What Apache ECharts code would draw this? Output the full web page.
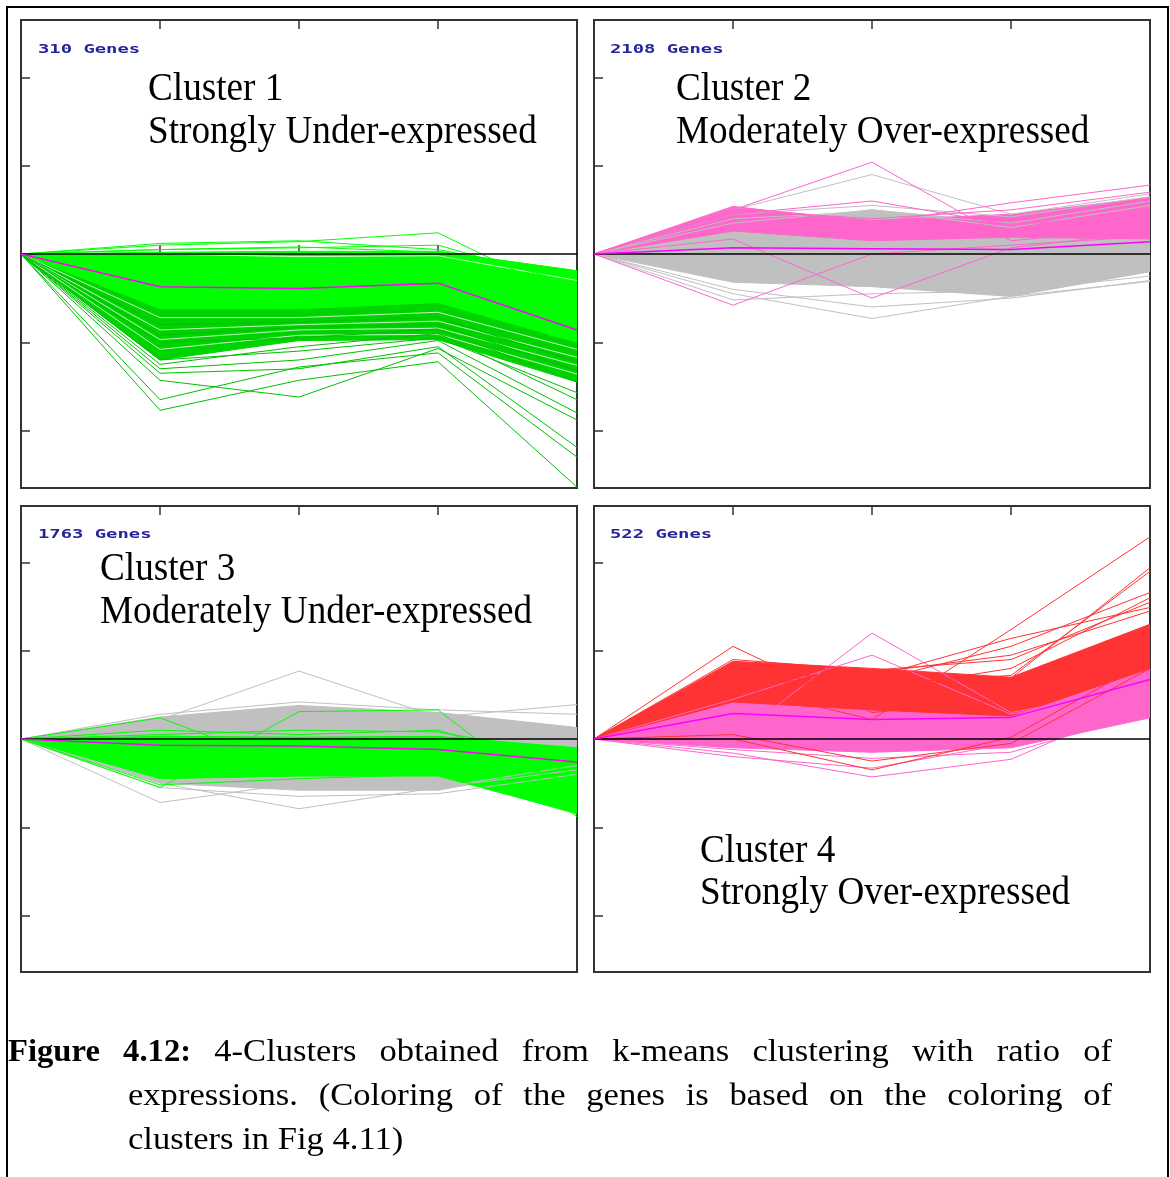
<!DOCTYPE html>
<html><head><meta charset="utf-8">
<script src="https://cdn.jsdelivr.net/npm/echarts@6/dist/echarts.min.js"></script>
<style>html,body{margin:0;padding:0;background:#fff}#c{width:1170px;height:1177px}</style>
</head><body><div id="c"></div>
<script>
// ---------- shared axes ----------
const xPoints = [0, 1, 2, 3, 4];
const yTicks = [-2, -1, 1, 2];
const zeroLine = [0, 0, 0, 0, 0];

// ---------- texts ----------
const geneCounts = ['310 Genes', '2108 Genes', '1763 Genes', '522 Genes'];
const clusterNames = ['Cluster 1', 'Cluster 2', 'Cluster 3', 'Cluster 4'];
const clusterDescs = ['Strongly Under-expressed', 'Moderately Over-expressed', 'Moderately Under-expressed', 'Strongly Over-expressed'];
const captionBold = ['Figure', '4.12:'];
const captionLine1 = ['4-Clusters', 'obtained', 'from', 'k-means', 'clustering', 'with', 'ratio', 'of'];
const captionLine2 = ['expressions.', '(Coloring', 'of', 'the', 'genes', 'is', 'based', 'on', 'the', 'coloring', 'of'];
const captionLine3 = 'clusters in Fig 4.11)';

// ---------- Cluster 1 (green) ----------
const c1Centroid = [0, -0.37, -0.39, -0.33, -0.86];
const c1DarkUpper = [0, -0.35, -0.40, -0.35, -0.75];
const c1DarkLower = [0, -1.20, -0.98, -0.97, -1.45];
const c1BrightUpper = [0, 0.02, 0.03, 0.03, -0.19];
const c1BrightLower = [0, -0.62, -0.62, -0.55, -1.0];
const c1GapLines = [
  [0, -0.72, -0.72, -0.66, -1.08],
  [0, -0.86, -0.80, -0.76, -1.17],
  [0, -0.97, -0.86, -0.84, -1.26],
  [0, -1.08, -0.92, -0.91, -1.36],
  [0, 0.00, -0.03, -0.02, -0.30]
];
const c1DarkLines = [
  [0, -1.77, -1.43, -1.22, -2.64],
  [0, -1.65, -1.28, -1.12, -2.30],
  [0, -1.43, -1.62, -1.07, -1.88],
  [0, -1.30, -1.20, -0.98, -1.80],
  [0, -1.25, -1.05, -0.90, -1.65],
  [0, -1.35, -1.30, -1.05, -2.19],
  [0, -1.20, -1.10, -0.95, -1.57],
  [0, -1.00, -0.95, -0.85, -1.45],
  [0, -0.80, -0.77, -0.72, -1.22],
  [0, -0.92, -0.83, -0.80, -1.32]
];
const c1BrightLines = [
  [0, 0.10, 0.14, 0.24, -0.53],
  [0, 0.05, 0.08, 0.02, -0.19],
  [0, 0.12, 0.15, 0.05, -0.25],
  [0, 0.05, 0.07, 0.10, -0.35]
];

// ---------- Cluster 2 (pink / grey) ----------
const c2Centroid = [0, 0.07, 0.06, 0.05, 0.14];
const c2GrayUpper = [0, 0.30, 0.50, 0.35, 0.20];
const c2GrayLower = [0, -0.32, -0.37, -0.48, -0.20];
const c2PinkUpper = [0, 0.53, 0.38, 0.45, 0.64];
const c2PinkLower = [0, 0.26, 0.15, 0.19, 0.17];
const c2GrayLines = [
  [0, 0.50, 0.90, 0.45, 0.68],
  [0, 0.45, 0.55, 0.42, 0.65],
  [0, 0.35, 0.50, 0.30, 0.55],
  [0, 0.40, 0.48, 0.35, 0.60],
  [0, -0.45, -0.73, -0.48, -0.31],
  [0, -0.52, -0.45, -0.42, -0.25],
  [0, -0.40, -0.60, -0.50, -0.30]
];
const c2PinkLines = [
  [0, 0.50, 1.04, 0.15, 0.30],
  [0, 0.45, 0.60, 0.33, 0.45],
  [0, 0.54, 0.35, 0.58, 0.78],
  [0, 0.50, 0.40, 0.50, 0.70],
  [0, -0.58, 0.00, 0.10, 0.20],
  [0, 0.17, -0.50, 0.07, 0.25]
];

// ---------- Cluster 3 (green / grey) ----------
const c3Centroid = [0, -0.07, -0.08, -0.12, -0.26];
const c3GrayUpper = [0, 0.25, 0.38, 0.30, 0.13];
const c3GrayLower = [0, -0.50, -0.58, -0.58, -0.30];
const c3GreenUpper = [0, 0.03, 0.02, 0.03, -0.10];
const c3GreenLower = [0, -0.45, -0.42, -0.42, -0.84];
const c3GrayLines = [
  [0, 0.22, 0.77, 0.25, 0.39],
  [0, 0.28, 0.42, 0.33, 0.28],
  [0, 0.20, 0.30, 0.10, 0.12],
  [0, -0.72, -0.50, -0.55, -0.30],
  [0, -0.50, -0.79, -0.55, -0.35],
  [0, -0.55, -0.65, -0.62, -0.40]
];
const c3GreenLines = [
  [0, 0.24, -0.35, -0.10, -0.50],
  [0, -0.55, 0.31, 0.33, -0.88],
  [0, 0.10, 0.05, 0.10, -0.40],
  [0, -0.52, -0.45, -0.40, -0.85],
  [0, 0.05, 0.10, 0.08, -0.20]
];

// ---------- Cluster 4 (red / pink) ----------
const c4Centroid = [0, 0.29, 0.22, 0.245, 0.675];
const c4PinkUpper = [0, 0.45, 0.36, 0.28, 0.82];
const c4PinkLower = [0, -0.10, -0.15, -0.10, 0.24];
const c4RedUpper = [0, 0.88, 0.80, 0.70, 1.30];
const c4RedLower = [0, 0.42, 0.33, 0.26, 0.80];
const c4RedLines = [
  [0, 1.05, 0.30, 0.45, 1.30],
  [0, 0.60, 0.22, 1.24, 2.29],
  [0, 0.70, 0.60, 0.69, 1.94],
  [0, 0.75, 0.62, 0.72, 1.90],
  [0, 0.75, 0.70, 1.14, 1.49],
  [0, 0.80, 0.65, 1.05, 1.66],
  [0, 0.85, 0.75, 0.95, 1.45],
  [0, 0.90, 0.78, 0.90, 1.55],
  [0, 0.70, 0.55, 0.80, 1.60],
  [0, 0.00, -0.35, 0.02, 0.90],
  [0, 0.05, -0.25, -0.05, 0.80]
];
const c4PinkLines = [
  [0, 0.00, 1.20, 0.30, 0.60],
  [0, 0.45, 0.95, 0.28, 0.60],
  [0, -0.16, -0.43, -0.23, 0.45],
  [0, -0.20, -0.33, -0.05, 0.35],
  [0, -0.12, -0.22, -0.15, 0.30]
];

// ---------- colours ----------
const GREEN = '#00ff00', DKGREEN = '#00c000', MIDGREEN = '#00d400', GRAY = '#c0c0c0', PINK = '#ff66cc', RED = '#ff3333', MAGENTA = '#ff00ff';

// ---------- layout ----------
const grids = [
  {left: 21, top: 20, width: 556, height: 468},
  {left: 594, top: 20, width: 556, height: 468},
  {left: 21, top: 506, width: 556, height: 466},
  {left: 594, top: 506, width: 556, height: 466}
];
const yRange = [2.65, 2.65, 2.64, 2.64];

const chart = echarts.init(document.getElementById('c'), null, {renderer: 'canvas'});

const xAxes = [], yAxes = [];
grids.forEach((g, i) => {
  const tick = {show: true, inside: true, length: 9, lineStyle: {color: '#333', width: 1.5}};
  xAxes.push({type: 'value', gridIndex: i, min: 0, max: 4, interval: 1, position: 'bottom',
    axisLine: {show: false}, axisLabel: {show: false}, splitLine: {show: false}, axisTick: tick});
  xAxes.push({type: 'value', gridIndex: i, min: 0, max: 4, interval: 1, position: 'top',
    axisLine: {show: false}, axisLabel: {show: false}, splitLine: {show: false}, axisTick: tick});
  yAxes.push({type: 'value', gridIndex: i, min: -yRange[i], max: yRange[i],
    axisLine: {show: false}, axisLabel: {show: false}, splitLine: {show: false},
    axisTick: Object.assign({}, tick, {customValues: yTicks})});
});

function band(g, upper, lower, color, z) {
  return {
    type: 'custom', coordinateSystem: 'cartesian2d', xAxisIndex: 2 * g, yAxisIndex: g,
    silent: true, animation: false, clip: true, z: z, data: [[0, 0]],
    renderItem: function (params, api) {
      const pts = [];
      xPoints.forEach((x, i) => pts.push(api.coord([x, upper[i]])));
      for (let i = xPoints.length - 1; i >= 0; i--) pts.push(api.coord([xPoints[i], lower[i]]));
      return {type: 'polygon', shape: {points: pts}, style: {fill: color, stroke: color, lineWidth: 1}};
    }
  };
}
function line(g, vals, color, width, z, opacity) {
  return {
    type: 'line', xAxisIndex: 2 * g, yAxisIndex: g, silent: true, animation: false, clip: true,
    symbol: 'none', z: z, data: xPoints.map((x, i) => [x, vals[i]]),
    lineStyle: {color: color, width: width, opacity: opacity == null ? 1 : opacity}
  };
}
const series = [];
// panel 1
series.push(band(0, c1DarkUpper, c1DarkLower, MIDGREEN, 2));
series.push(band(0, c1BrightUpper, c1BrightLower, GREEN, 3));
c1GapLines.forEach(v => series.push(line(0, v, '#ffffff', 1, 4, 0.75)));
c1DarkLines.forEach(v => series.push(line(0, v, DKGREEN, 1, 4)));
c1BrightLines.forEach(v => series.push(line(0, v, GREEN, 1, 4)));
series.push(line(0, zeroLine, '#000', 1.5, 5));
series.push(line(0, c1Centroid, MAGENTA, 1.5, 6));
// panel 2
series.push(band(1, c2GrayUpper, c2GrayLower, GRAY, 2));
series.push(band(1, c2PinkUpper, c2PinkLower, PINK, 3));
c2GrayLines.forEach(v => series.push(line(1, v, GRAY, 1, 4)));
c2PinkLines.forEach(v => series.push(line(1, v, PINK, 1, 4)));
series.push(line(1, zeroLine, '#000', 1.5, 5));
series.push(line(1, c2Centroid, MAGENTA, 1.5, 6));
// panel 3
series.push(band(2, c3GrayUpper, c3GrayLower, GRAY, 2));
series.push(band(2, c3GreenUpper, c3GreenLower, GREEN, 3));
c3GrayLines.forEach(v => series.push(line(2, v, GRAY, 1, 4)));
c3GreenLines.forEach(v => series.push(line(2, v, GREEN, 1, 4)));
series.push(line(2, zeroLine, '#000', 1.5, 5));
series.push(line(2, c3Centroid, MAGENTA, 1.5, 6));
// panel 4
series.push(band(3, c4PinkUpper, c4PinkLower, PINK, 2));
series.push(band(3, c4RedUpper, c4RedLower, RED, 3));
c4PinkLines.forEach(v => series.push(line(3, v, PINK, 1, 4)));
c4RedLines.forEach(v => series.push(line(3, v, RED, 1, 4)));
series.push(line(3, zeroLine, '#000', 1.5, 5));
series.push(line(3, c4Centroid, MAGENTA, 1.5, 6));

// ---------- graphic texts ----------
const SERIF = "'Liberation Serif', 'Times New Roman', serif";
const graphics = [];
graphics.push({type: 'rect', z: -10, shape: {x: 7, y: 7, width: 1161, height: 1220},
  style: {fill: 'none', stroke: '#000', lineWidth: 2}});

const labelPos = [[38, 50], [610, 50], [38, 535], [610, 535]];
geneCounts.forEach((t, i) => {
  graphics.push({type: 'text', x: labelPos[i][0], y: labelPos[i][1], scaleX: 1.45, z: 100,
    style: {text: t, font: "bold 13px 'DejaVu Sans Mono', monospace", fill: '#24249c',
      textAlign: 'left', verticalAlign: 'middle', textVerticalAlign: 'middle'}});
});
const titlePos = [[148, 89.5, 132.5], [676, 89.5, 132.5], [100, 569.5, 612.5], [700, 851.5, 893.5]];
clusterNames.forEach((t, i) => {
  [[t, titlePos[i][1]], [clusterDescs[i], titlePos[i][2]]].forEach(([txt, y]) => {
    graphics.push({type: 'text', x: titlePos[i][0], y: y, scaleX: 0.93, z: 100,
      style: {text: txt, font: '40px ' + SERIF, fill: '#000',
        textAlign: 'left', verticalAlign: 'middle', textVerticalAlign: 'middle'}});
  });
});

const CAP = '32px ' + SERIF, CAPB = 'bold 32px ' + SERIF;
const SX = 1.08, SXB = 1.02;
const mctx = document.createElement('canvas').getContext('2d');
function justify(words, bolds, x0, x1, y) {
  const widths = words.map((w, i) => { mctx.font = bolds[i] ? CAPB : CAP; return mctx.measureText(w).width * (bolds[i] ? SXB : SX); });
  const total = widths.reduce((a, b) => a + b, 0);
  const gap = (x1 - x0 - total) / (words.length - 1);
  let x = x0;
  words.forEach((w, i) => {
    graphics.push({type: 'text', x: x, y: y, z: 100, scaleX: bolds[i] ? SXB : SX,
      style: {text: w, font: bolds[i] ? CAPB : CAP, fill: '#000', textAlign: 'left',
        verticalAlign: 'middle', textVerticalAlign: 'middle'}});
    x += widths[i] + gap;
  });
}
const l1 = captionBold.concat(captionLine1);
justify(l1, l1.map((w, i) => i < captionBold.length), 8, 1112, 1053);
justify(captionLine2, captionLine2.map(() => false), 128, 1112, 1097);
graphics.push({type: 'text', x: 128, y: 1141, z: 100, scaleX: SX,
  style: {text: captionLine3, font: CAP, fill: '#000', textAlign: 'left', verticalAlign: 'middle', textVerticalAlign: 'middle'}});

chart.setOption({
  backgroundColor: '#fff',
  animation: false,
  grid: grids.map(g => Object.assign({show: true, borderColor: '#333', borderWidth: 2, backgroundColor: '#fff'}, g)),
  xAxis: xAxes,
  yAxis: yAxes,
  series: series,
  graphic: {elements: graphics}
});
</script></body></html>
